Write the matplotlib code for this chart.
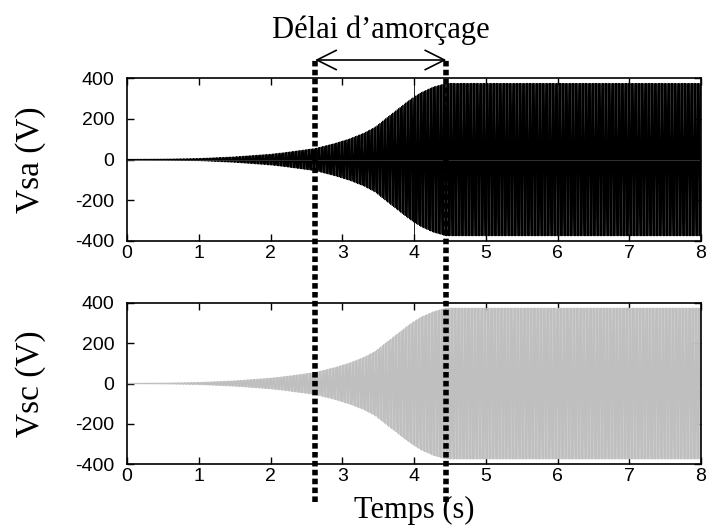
import numpy as np
import matplotlib
matplotlib.use("Agg")
import matplotlib.pyplot as plt

plt.rcParams["axes.unicode_minus"] = False

# Envelope of the voltage
env_t = [0.0, 0.5, 1.0, 1.5, 2.0, 2.2, 2.62, 2.9, 3.1, 3.3, 3.46, 3.6, 3.8, 3.9, 4.0, 4.1, 4.27, 4.45, 8.0]
env_a = [2, 3, 6, 14, 27, 35, 55, 80, 102, 130, 160, 200, 255, 283, 308, 330, 357, 375, 375]
freq_hz = 50.0
x_ticks = [0, 1, 2, 3, 4, 5, 6, 7, 8]
y_ticks = [-400, -200, 0, 200, 400]
delay_start, delay_end = 2.62, 4.45
ylabels = ["Vsa (V)", "Vsc (V)"]
phases = [0.0, 2 * np.pi / 3]
colors = ["#000000", "#bfbfbf"]

t = np.linspace(0, 8, 40001)
env = np.interp(t, env_t, env_a)

fig = plt.figure(figsize=(7.06, 5.25), dpi=100)
ax1 = fig.add_axes([0.180, 0.541, 0.813, 0.310])
ax2 = fig.add_axes([0.180, 0.116, 0.813, 0.307])

serif = ["Liberation Serif", "DejaVu Serif"]
for ax, lab, ph, c in zip([ax1, ax2], ylabels, phases, colors):
    ax.plot(t, env * np.sin(2 * np.pi * freq_hz * t + ph), color=c, lw=0.6)
    ax.set_xlim(0, 8)
    ax.set_ylim(-400, 400)
    ax.set_xticks(x_ticks)
    ax.set_yticks(y_ticks)
    ax.tick_params(direction="in", top=True, right=True, length=5, width=1,
                   labelsize=14)
    ax.tick_params(axis="x", pad=3)
    ax.tick_params(axis="y", pad=9)
    for lbl in ax.get_xticklabels() + ax.get_yticklabels():
        lbl.set_family("Liberation Sans")
    for s in ax.spines.values():
        s.set_linewidth(1.2)
    ax.set_ylabel(lab, family=serif, fontsize=24)
    ax.yaxis.set_label_coords(-0.142, 0.5)

ax1.axvline(4, color="black", lw=0.6)
ax1.axhline(0, color="#444444", lw=0.5)

# dashed delay lines spanning both axes (figure coords)
def xfig(xd):
    disp = ax1.transData.transform((xd, 0))
    return fig.transFigure.inverted().transform(disp)[0]

y_top = 1 - 60 / 525
y_bot = 1 - 502 / 525
for xd in (delay_start, delay_end):
    xf = xfig(xd)
    fig.add_artist(plt.Line2D([xf, xf], [y_bot, y_top], color="black",
                              lw=4, linestyle=(0, (1, 0.6)),
                              transform=fig.transFigure))

x0, x1 = xfig(delay_start), xfig(delay_end)
fig.add_artist(matplotlib.patches.FancyArrowPatch(
    (x0, y_top), (x1, y_top), arrowstyle="<->,head_length=14,head_width=7",
    color="black", lw=1.2, transform=fig.transFigure, shrinkA=0, shrinkB=0))
fig.text((x0 + x1) / 2, 1 - 30 / 525, "Délai d’amorçage", family=serif,
         fontsize=22, ha="center", va="center")
fig.text(414 / 706, 1 - 510 / 525, "Temps (s)", family=serif,
         fontsize=22, ha="center", va="center")

fig.savefig("out.png", dpi=100)
